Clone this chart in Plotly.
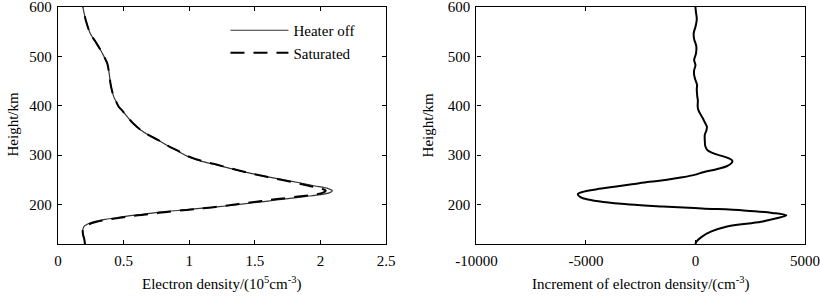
import plotly.graph_objects as go

# ---- Data ----
h_ne = [120, 130, 140, 150, 156, 161, 165, 170, 174, 178, 182, 186, 189, 192, 195, 199,
        203, 207, 211, 216, 220, 224, 228, 232, 238, 244, 250, 256, 263, 271, 280, 288,
        297, 310, 320, 331, 340, 351, 365, 378, 390, 398, 410, 418, 432, 445, 465, 486,
        500, 513, 530, 546, 570, 600]
ne_off = [0.205, 0.200, 0.190, 0.190, 0.200, 0.230, 0.270, 0.360, 0.460, 0.570, 0.700, 0.830,
          0.960, 1.080, 1.210, 1.350, 1.470, 1.600, 1.720, 1.880, 2.000, 2.070, 2.090, 2.060,
          1.950, 1.840, 1.720, 1.600, 1.470, 1.340, 1.210, 1.090, 0.990, 0.900, 0.830, 0.760,
          0.695, 0.630, 0.570, 0.527, 0.490, 0.463, 0.440, 0.425, 0.410, 0.400, 0.390, 0.375,
          0.350, 0.324, 0.285, 0.247, 0.215, 0.189]
ne_sat = [0.205, 0.200, 0.190, 0.190, 0.210, 0.245, 0.295, 0.395, 0.500, 0.610, 0.740, 0.860,
          0.980, 1.090, 1.200, 1.320, 1.430, 1.550, 1.670, 1.830, 1.950, 2.020, 2.040, 2.010,
          1.910, 1.810, 1.700, 1.590, 1.470, 1.350, 1.220, 1.100, 1.000, 0.905, 0.830, 0.760,
          0.695, 0.630, 0.570, 0.527, 0.490, 0.463, 0.440, 0.425, 0.410, 0.400, 0.390, 0.375,
          0.350, 0.324, 0.285, 0.247, 0.215, 0.189]

h_inc = [120, 125, 135, 145, 155, 165, 172, 178, 183, 188, 192, 196, 200, 205, 210, 215,
         221, 226, 231, 236, 241, 246, 250, 255, 260, 266, 272, 278, 284, 289, 294, 299,
         304, 310, 318, 327, 335, 342, 350, 358, 366, 375, 385, 393, 400, 410, 420, 433,
         443, 452, 462, 472, 482, 493, 505, 520, 535, 547, 560, 575, 590, 600]
d_inc = [0, 50, 300, 700, 1400, 3000, 3700, 4150, 3500, 2200, 300, -1500, -3000, -4200,
         -4900, -5250, -5370, -5100, -4500, -3700, -2900, -2100, -1300, -600, -50, 400,
         1000, 1450, 1650, 1680, 1500, 1150, 800, 550, 450, 430, 420, 430, 500, 520, 430,
         330, 200, 120, 100, 110, 80, 60, 70, 0, -60, -60, 0, -60, 20, 40, -60, -80, 0, 60,
         20, 0]

x1_ticks = [0, 0.5, 1, 1.5, 2, 2.5]
x1_labels = ["0", "0.5", "1", "1.5", "2", "2.5"]
x2_ticks = [-10000, -5000, 0, 5000]
x2_labels = ["-10000", "-5000", "0", "5000"]
y_ticks = [200, 300, 400, 500, 600]

FONT = "Liberation Serif, Times New Roman, serif"

fig = go.Figure()
fig.add_trace(go.Scatter(x=ne_off, y=h_ne, mode="lines", name="Heater off",
                         line=dict(color="#333333", width=1.2, shape="spline"),
                         xaxis="x", yaxis="y"))
fig.add_trace(go.Scatter(x=ne_sat, y=h_ne, mode="lines", name="Saturated",
                         line=dict(color="black", width=2, dash="14px,9px", shape="spline"),
                         xaxis="x", yaxis="y"))
fig.add_trace(go.Scatter(x=d_inc, y=h_inc, mode="lines", showlegend=False,
                         line=dict(color="black", width=2, shape="spline"),
                         xaxis="x2", yaxis="y2"))

axis_common = dict(showgrid=False, zeroline=False, showline=True, linecolor="black",
                   linewidth=1.3, mirror="ticks", ticks="inside", ticklen=4,
                   tickcolor="black", tickwidth=1, automargin=False,
                   ticklabeloverflow="allow",
                   tickfont=dict(family=FONT, size=15, color="black"))

L, R, T, B = 57.5, 15.3, 7, 53
W = 820 - L - R
H = 297 - T - B
fig.update_layout(
    width=820, height=297,
    margin=dict(l=L, r=R, t=T, b=B, autoexpand=False),
    paper_bgcolor="white", plot_bgcolor="white",
    font=dict(family=FONT, size=15, color="black"),
    xaxis=dict(domain=[0, (385.7 - L) / W], range=[0, 2.5], tickvals=x1_ticks,
               ticktext=x1_labels, anchor="y", ticklabelstandoff=3, **axis_common),
    yaxis=dict(domain=[0, 1], range=[120, 600], tickvals=y_ticks, anchor="x",
               ticklabelstandoff=2, **axis_common),
    xaxis2=dict(domain=[(476 - L) / W, 1], range=[-10000, 5000], tickvals=x2_ticks,
                ticktext=x2_labels, anchor="y2", ticklabelstandoff=3, **axis_common),
    yaxis2=dict(domain=[0, 1], range=[120, 600], tickvals=y_ticks, anchor="x2",
                ticklabelstandoff=2, **axis_common),
    legend=dict(x=(225 - L) / W, y=1 - (14 - T) / H, xanchor="left",
                yanchor="top", bgcolor="rgba(0,0,0,0)", borderwidth=0,
                font=dict(family=FONT, size=15, color="black"), itemwidth=58,
                tracegroupgap=0),
    showlegend=True,
    annotations=[
        dict(text="Electron density/(10<sup>5</sup>cm<sup>-3</sup>)", xref="paper", yref="paper",
             x=(221 - L) / W, y=-(283 - 244) / H, xanchor="center", yanchor="middle",
             showarrow=False, font=dict(family=FONT, size=15)),
        dict(text="Increment of electron density/(cm<sup>-3</sup>)", xref="paper", yref="paper",
             x=(640 - L) / W, y=-(283 - 244) / H, xanchor="center", yanchor="middle",
             showarrow=False, font=dict(family=FONT, size=15)),
        dict(text="Height/km", xref="paper", yref="paper", textangle=-90,
             x=(12 - L) / W, y=1 - (125 - T) / H, xanchor="center", yanchor="middle",
             showarrow=False, font=dict(family=FONT, size=15)),
        dict(text="Height/km", xref="paper", yref="paper", textangle=-90,
             x=(428 - L) / W, y=1 - (125 - T) / H, xanchor="center", yanchor="middle",
             showarrow=False, font=dict(family=FONT, size=15)),
    ],
)

fig.write_html("out.html", config={"displayModeBar": False},
               post_script="document.body.style.margin='0';document.body.style.overflow='hidden';")
